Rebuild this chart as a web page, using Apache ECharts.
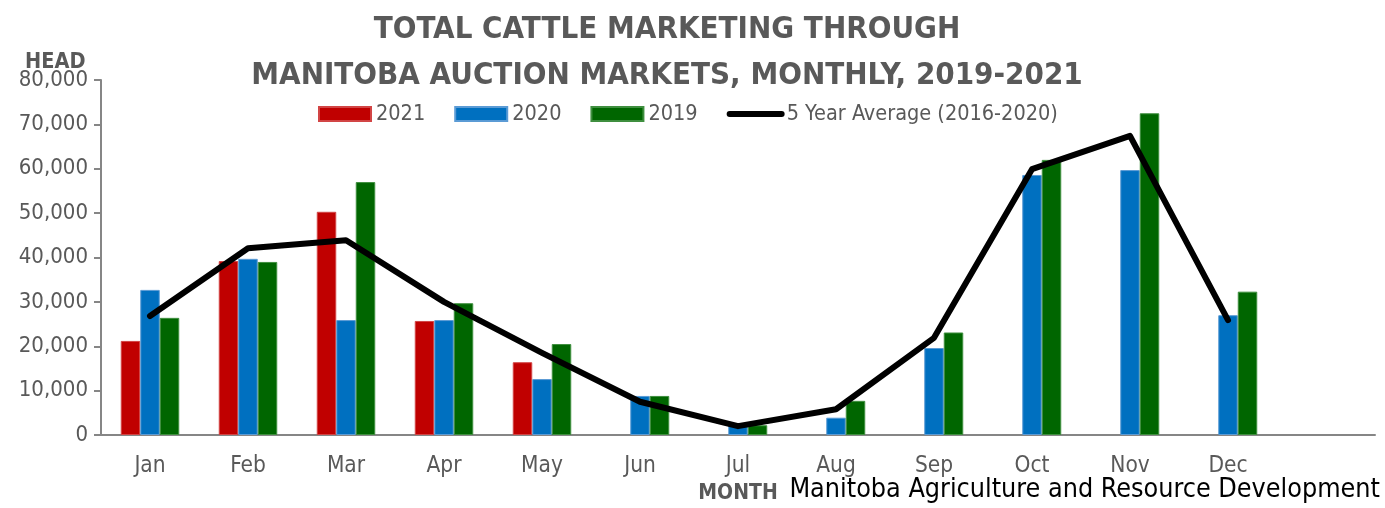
<!DOCTYPE html>
<html>
<head>
<meta charset="utf-8">
<script src="https://cdn.jsdelivr.net/npm/echarts@6/dist/echarts.min.js"></script>
<style>
  html, body { margin: 0; padding: 0; background: #fff; }
  #chart-container { width: 1385px; height: 508px; }
</style>
</head>
<body>
<div id="chart-container"></div>
<script>
var months = ['Jan', 'Feb', 'Mar', 'Apr', 'May', 'Jun', 'Jul', 'Aug', 'Sep', 'Oct', 'Nov', 'Dec', ''];
var yearTicks = [0, 10000, 20000, 30000, 40000, 50000, 60000, 70000, 80000];

var head2021 = [21200, 39200, 50300, 25700, 16400, null, null, null, null, null, null, null, null];
var head2020 = [32700, 39700, 25900, 25900, 12600, 8800, 2200, 3900, 19600, 58600, 59700, 27000, null];
var head2019 = [26400, 39000, 57000, 29700, 20500, 8800, 2200, 7700, 23100, 62000, 72500, 32300, null];
var fiveYearAvg = [26800, 42100, 43900, 30000, 18500, 7500, 2000, 5800, 21900, 59900, 67400, 25900, null];

var FONT = '"DejaVu Sans Condensed", "Liberation Sans Narrow", "Open Sans", sans-serif';
var GREY = '#595959';

var dom = document.getElementById('chart-container');
var myChart = echarts.init(dom, null, { renderer: 'canvas' });

var barSeries = (name, data, color, edge) => ({
  name: name,
  type: 'bar',
  data: data,
  barWidth: 19.5,
  barGap: '0%',
  itemStyle: { color: color, borderColor: edge, borderWidth: 1 },
});

var option = {
  animation: false,
  textStyle: { fontFamily: FONT },
  title: {
    text: 'TOTAL CATTLE MARKETING THROUGH\nMANITOBA AUCTION MARKETS, MONTHLY, 2019-2021',
    left: 662,
    top: 2,
    textAlign: 'center',
    textStyle: {
      fontFamily: FONT,
      fontSize: 31,
      fontWeight: 'bold',
      color: GREY,
      lineHeight: 46,
    },
  },
  legend: {
    left: 313,
    top: 98,
    itemWidth: 52,
    itemHeight: 14,
    itemGap: 29,
    textStyle: { fontFamily: FONT, fontSize: 21.5, color: GREY },
    data: [
      { name: '2021', icon: 'rect' },
      { name: '2020', icon: 'rect' },
      { name: '2019', icon: 'rect' },
      {
        name: '5 Year Average (2016-2020)',
        itemStyle: { color: 'rgba(0,0,0,0)', borderWidth: 0 },
        lineStyle: { color: '#000', width: 6, cap: 'round' },
      },
    ],
  },
  grid: { left: 101, right: 10, top: 80, bottom: 73, outerBoundsMode: 'none' },
  xAxis: {
    type: 'category',
    data: months,
    name: 'MONTH',
    nameLocation: 'middle',
    nameGap: 47,
    nameTextStyle: { fontFamily: FONT, fontSize: 21, fontWeight: 'bold', color: GREY },
    axisLine: { lineStyle: { color: '#868686', width: 2 } },
    axisTick: { length: 7, lineStyle: { color: '#868686', width: 2 } },
    axisLabel: { margin: 20, fontFamily: FONT, fontSize: 22.5, color: GREY },
  },
  yAxis: {
    type: 'value',
    min: yearTicks[0],
    max: yearTicks[yearTicks.length - 1],
    interval: 10000,
    splitLine: { show: false },
    axisLine: { show: true, lineStyle: { color: '#868686', width: 2 } },
    axisTick: { show: true, length: 7, lineStyle: { color: '#868686', width: 2 } },
    axisLabel: {
      margin: 13,
      fontFamily: FONT,
      fontSize: 22,
      color: GREY,
      formatter: (v) => v.toLocaleString('en-US'),
    },
  },
  graphic: [
    {
      type: 'text',
      left: 25,
      top: 51,
      style: { text: 'HEAD', fontFamily: FONT, fontSize: 21.5, fontWeight: 'bold', fill: GREY },
    },
    {
      type: 'text',
      right: 5,
      top: 477,
      style: { text: 'Manitoba Agriculture and Resource Development', fontFamily: FONT, fontSize: 26.7, fill: '#000' },
    },
  ],
  series: [
    barSeries('2021', head2021, '#C00000', '#D24545'),
    barSeries('2020', head2020, '#0070C0', '#5B9BD5'),
    barSeries('2019', head2019, '#006600', '#3F8F3F'),
    {
      name: '5 Year Average (2016-2020)',
      type: 'line',
      data: fiveYearAvg,
      symbol: 'none',
      connectNulls: false,
      lineStyle: { color: '#000', width: 6, cap: 'round', join: 'round' },
      itemStyle: { color: '#000' },
      z: 5,
    },
  ],
};

myChart.setOption(option);
window.addEventListener('resize', myChart.resize);
</script>
</body>
</html>
